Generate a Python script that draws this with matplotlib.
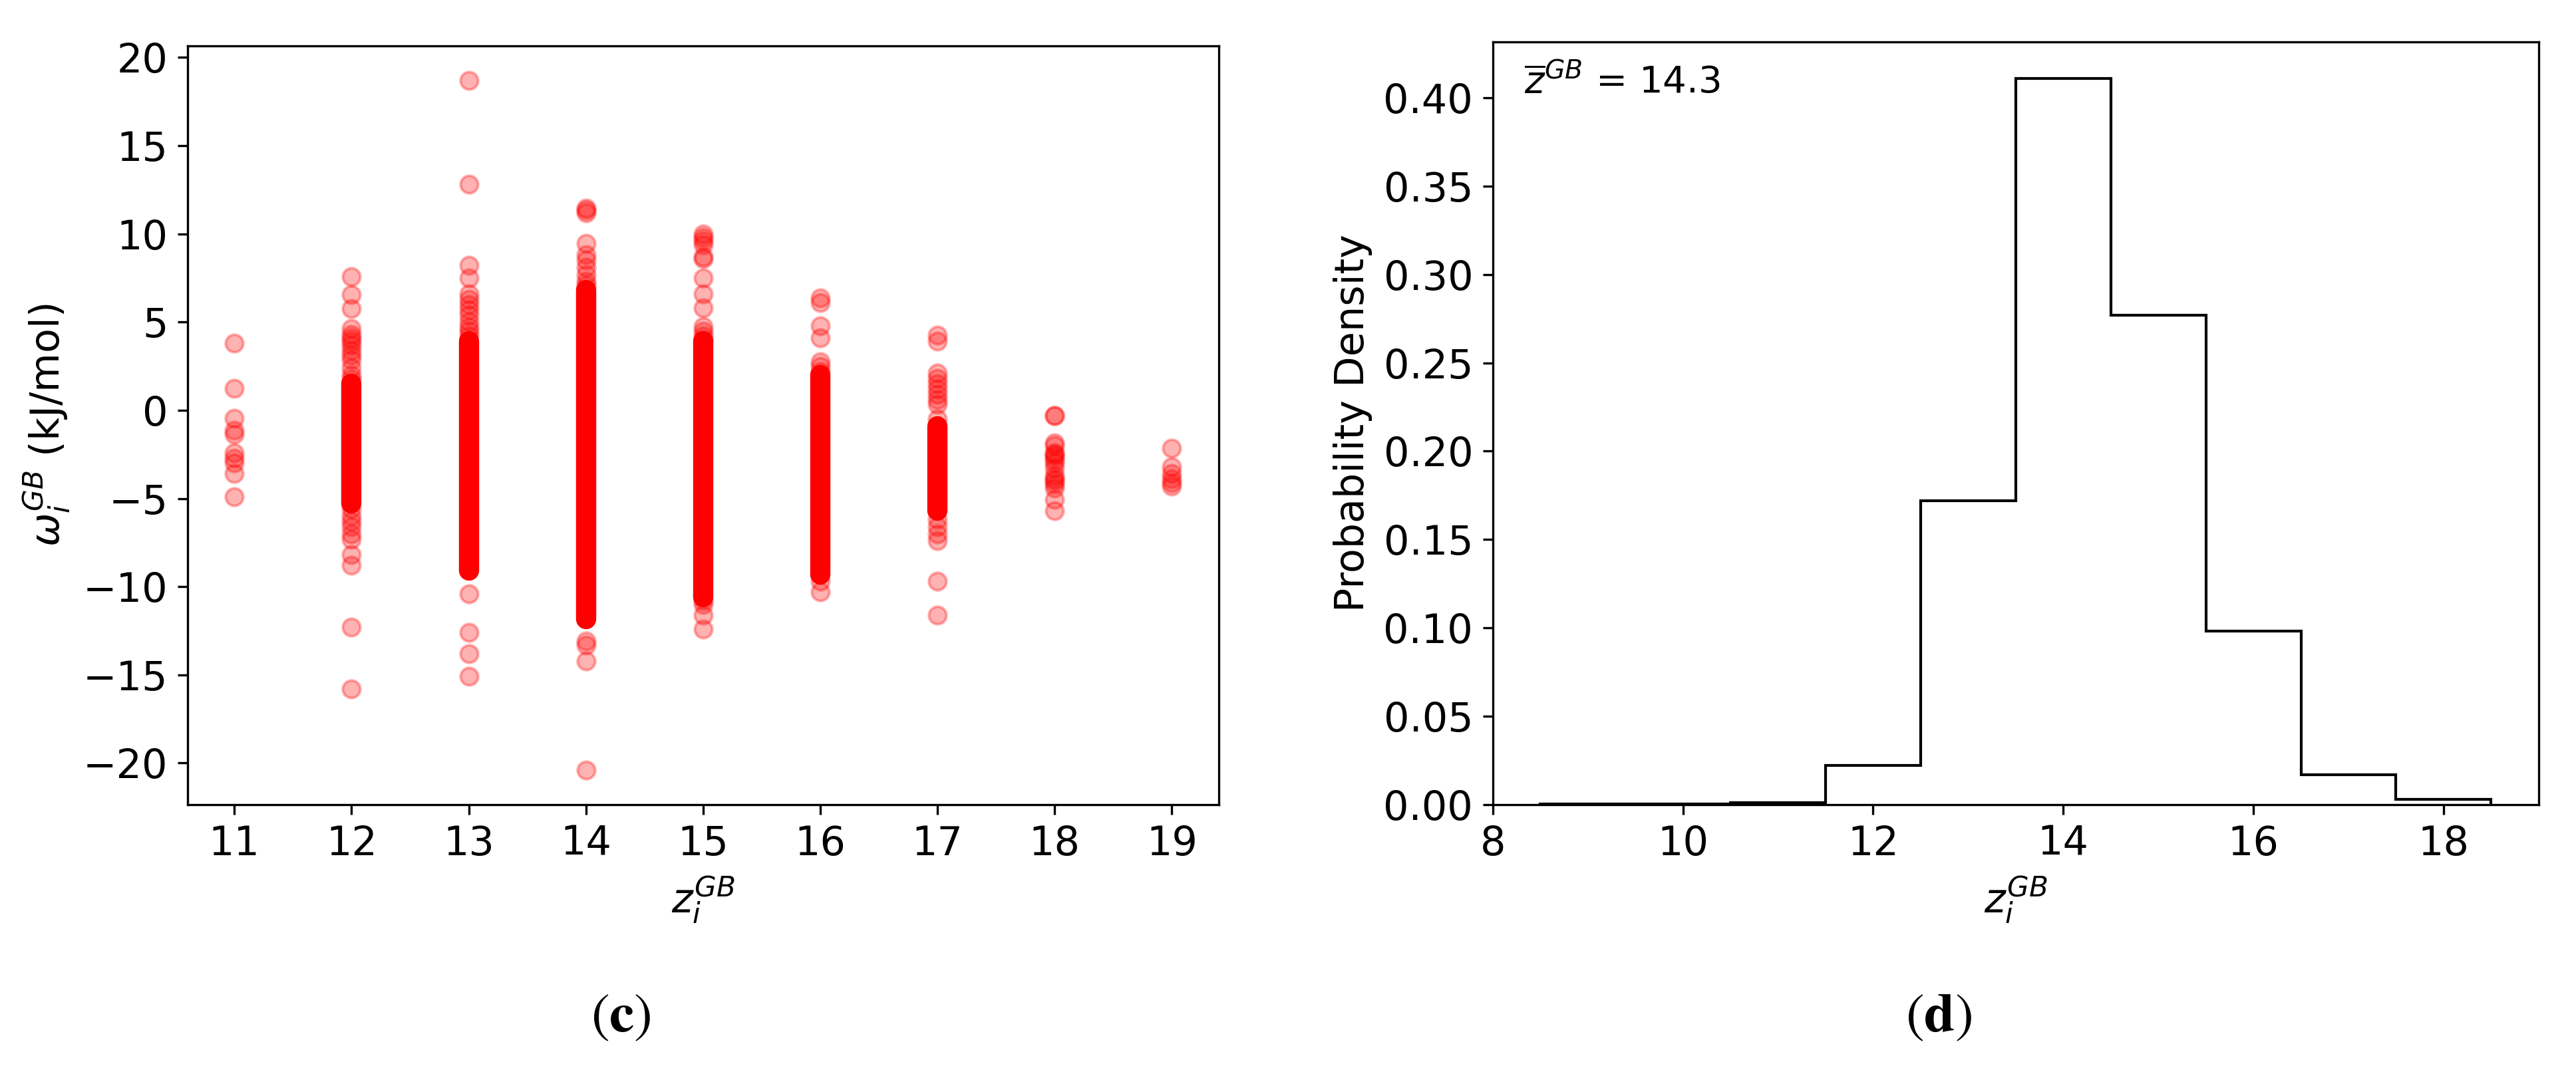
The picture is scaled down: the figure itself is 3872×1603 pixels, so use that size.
import matplotlib
matplotlib.use('Agg')
import matplotlib.pyplot as plt
import matplotlib.ticker as mticker
import numpy as np

plt.rcParams['font.family'] = ['DejaVu Sans']
plt.rcParams['font.size'] = 14.5

# (c) omega_i^GB vs z_i^GB : individual points read per coordination number
z_values = [11, 12, 13, 14, 15, 16, 17, 18, 19]
w11 = [3.8, 1.25, -0.45, -1.15, -1.35, -2.4, -2.7, -3.0, -3.6, -4.9]
w12 = [7.56, 6.54, 5.77, 4.64, 4.3, 4.1, 3.9, 3.7, 3.4, 3.13, 2.87, 2.4, 2.0, 1.75,
       -5.6, -6.0, -6.3, -6.6, -7.0, -7.3, -8.2, -8.8, -12.3, -15.8]
w13 = [18.7, 12.8, 8.2, 7.5, 6.6, 6.3, 6.0, 5.7, 5.4, 5.0, 4.7, 4.5, 4.2,
       -10.4, -12.6, -13.8, -15.1]
w14 = [11.45, 11.35, 11.2, 9.45, 8.8, 8.5, 8.1, 7.7, 7.3, 7.1,
       -13.1, -13.3, -14.2, -20.4]
w15 = [10.0, 9.8, 9.6, 9.4, 8.7, 8.6, 7.5, 6.6, 5.8, 4.75, 4.5, 4.2, 4.0,
       -10.8, -11.0, -11.6, -12.4]
w16 = [6.35, 6.1, 4.8, 4.1, 2.75, 2.5, 2.2, -9.7, -10.3]
w17 = [4.26, 3.9, 2.1, 1.8, 1.5, 1.2, 0.9, 0.6, 0.35, -0.5,
       -6.2, -6.6, -7.0, -7.4, -9.7, -11.6]
w18 = [-0.3, -0.32, -1.85, -2.0, -2.4, -2.5, -2.6, -2.8, -3.0, -3.3, -3.7,
       -3.9, -4.0, -4.2, -4.4, -5.06, -5.7]
w19 = [-2.16, -3.2, -3.6, -3.9, -4.1, -4.3]
omega_points = [w11, w12, w13, w14, w15, w16, w17, w18, w19]

# saturated (overlapping) part of each column
core_z = [12, 13, 14, 15, 16, 17]
core_top = [1.5, 3.9, 6.8, 3.9, 2.0, -0.9]
core_bottom = [-5.3, -9.1, -11.85, -10.6, -9.3, -5.7]

# (d) histogram of z_i^GB
bin_edges = [8.5, 9.5, 10.5, 11.5, 12.5, 13.5, 14.5, 15.5, 16.5, 17.5, 18.5]
density = [0.0005, 0.0005, 0.001, 0.022, 0.172, 0.411, 0.277, 0.098, 0.017, 0.003]
z_mean = 14.3

fig = plt.figure(figsize=(3872 / 300, 1603 / 300), dpi=300)
ax1 = fig.add_axes([0.0728, 0.2452, 0.4003, 0.7118])
ax2 = fig.add_axes([0.5795, 0.2452, 0.4060, 0.7155])

for ax in (ax1, ax2):
    for sp in ax.spines.values():
        sp.set_linewidth(0.8)
    ax.tick_params(width=0.8, length=3.6, pad=3.5, labelsize=14.5)

# scatter
xs = np.concatenate([[z] * len(w) for z, w in zip(z_values, omega_points)])
ys = np.concatenate(omega_points)
ax1.vlines(core_z, core_bottom, core_top, color='red', linewidth=7.3,
           capstyle='round', zorder=2)
ax1.scatter(xs, ys, s=40, color='red', alpha=0.3, linewidths=1.0, zorder=3)
ax1.set_xticks(z_values)
ax1.yaxis.set_major_locator(mticker.MultipleLocator(5))
ax1.set_xlabel(r'$z_i^{GB}$')
ax1.set_ylabel(r'$\omega_i^{GB}$ (kJ/mol)')

# histogram
centers = [(a + b) / 2 for a, b in zip(bin_edges[:-1], bin_edges[1:])]
ax2.hist(centers, bins=bin_edges, weights=density, histtype='step',
         color='black', linewidth=1.0)
ax2.xaxis.set_major_locator(mticker.MultipleLocator(2))
ax2.yaxis.set_major_locator(mticker.MultipleLocator(0.05))
ax2.set_xlabel(r'$z_i^{GB}$')
ax2.set_ylabel('Probability Density')
ax2.text(0.03, 0.933, r'$\overline{z}^{GB}$ = %.1f' % z_mean, transform=ax2.transAxes,
         ha='left', va='baseline', fontsize=13.5)

# panel labels
fig.text(0.241, 0.047, r'$(\mathbf{c})$', ha='center', va='center', fontsize=20,
         math_fontfamily='stix')
fig.text(0.7526, 0.047, r'$(\mathbf{d})$', ha='center', va='center', fontsize=20,
         math_fontfamily='stix')

fig.savefig('out.png', dpi=300)
